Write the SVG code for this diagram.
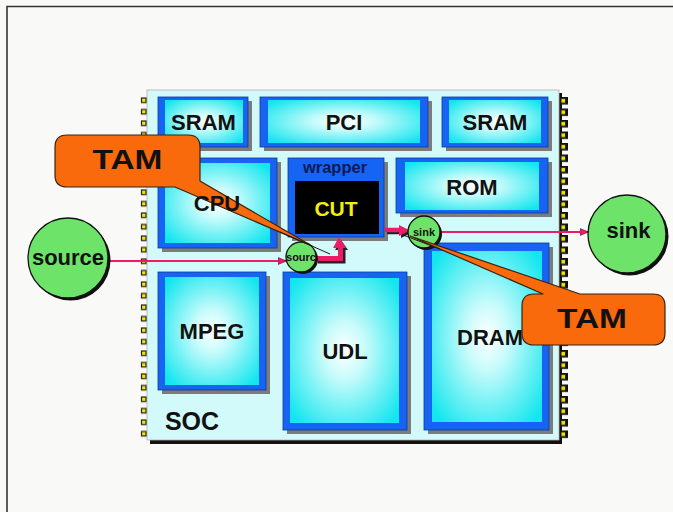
<svg xmlns="http://www.w3.org/2000/svg" width="673" height="512" viewBox="0 0 673 512">
<defs>
<radialGradient id="cy" cx="50%" cy="50%" r="65%">
<stop offset="0" stop-color="#ffffff"/>
<stop offset="0.3" stop-color="#c8fbfb"/>
<stop offset="1" stop-color="#12e6ee"/>
</radialGradient>
<marker id="thin" markerWidth="9" markerHeight="8" refX="8" refY="4" orient="auto" markerUnits="userSpaceOnUse">
<path d="M0,0.5 L8.5,4 L0,7.5 z" fill="#ee1c68" stroke="#5a1030" stroke-width="0.6"/>
</marker>
<pattern id="padsL" x="140" y="97" width="12" height="11.5" patternUnits="userSpaceOnUse">
<rect x="1.5" y="1" width="4.5" height="4.5" fill="#f4e600" stroke="#222" stroke-width="1.2"/>
</pattern>
<pattern id="padsR" x="559" y="97" width="12" height="11.5" patternUnits="userSpaceOnUse">
<rect x="2" y="0" width="7" height="7.5" fill="#111"/>
<rect x="2" y="1.5" width="4.5" height="4.5" fill="#f4e600" stroke="#222" stroke-width="1"/>
</pattern>
</defs>
<style>
.blue{fill:#1763f2;stroke:#0a3a9a;stroke-width:0.8}
.sh{fill:#7c7c7c}
.in{fill:url(#cy)}
.lab{font-family:"Liberation Sans",Arial,sans-serif;font-weight:bold;font-size:22px;fill:#111;text-anchor:middle}
.circ{fill:#6ee36a;stroke:#111;stroke-width:1.3}
.csh{fill:#111}
.pk{stroke:#ee1c68;fill:none}
.tam{fill:#f86a0c;stroke:#3a2410;stroke-width:1.2;stroke-linejoin:round}
</style>
<rect x="0" y="0" width="673" height="512" fill="#f9faf8"/>
<path d="M7,512 V6.5 H673" fill="none" stroke="#333" stroke-width="1.6"/>

<g id="soc">
<rect x="150" y="93" width="412" height="351" fill="#111"/>
<rect x="147" y="90" width="412" height="350" fill="#d2fafa" stroke="#c0a8a8" stroke-width="0.8"/>
<rect x="140" y="95" width="8" height="345" fill="url(#padsL)"/>
<rect x="559" y="95" width="12" height="345" fill="url(#padsR)"/>
<text class="lab" x="192" y="430" style="font-size:25px">SOC</text>
</g>

<g id="sram1">
<rect class="sh" x="162" y="101" width="90" height="50"/>
<rect class="blue" x="158" y="97" width="90" height="50"/>
<rect class="in" x="165" y="100" width="78" height="43"/>
<text class="lab" x="203.5" y="130">SRAM</text>
</g>
<g id="pci">
<rect class="sh" x="264" y="101" width="168" height="50"/>
<rect class="blue" x="260" y="97" width="168" height="50"/>
<rect class="in" x="268" y="100" width="152" height="43"/>
<text class="lab" x="344" y="130">PCI</text>
</g>
<g id="sram2">
<rect class="sh" x="446" y="101" width="106" height="50"/>
<rect class="blue" x="442" y="97" width="106" height="50"/>
<rect class="in" x="449" y="100" width="92" height="43"/>
<text class="lab" x="495" y="130">SRAM</text>
</g>
<g id="cpu">
<rect class="sh" x="162" y="162" width="119" height="90"/>
<rect class="blue" x="158" y="158" width="119" height="90"/>
<rect class="in" x="165" y="163" width="105" height="80"/>
</g>
<g id="wrapper">
<rect class="sh" x="292" y="162" width="96" height="79"/>
<rect class="blue" x="288" y="158" width="96" height="79"/>
<rect x="295" y="181" width="84" height="53" fill="#000"/>
<text x="335" y="173" text-anchor="middle" font-family="Liberation Sans,Arial,sans-serif" font-weight="bold" font-size="16.5" fill="#0d1a5a">wrapper</text>
<text x="336" y="216" text-anchor="middle" font-family="Liberation Sans,Arial,sans-serif" font-weight="bold" font-size="21" fill="#f2ee10">CUT</text>
</g>
<g id="rom">
<rect class="sh" x="400" y="162" width="152" height="55"/>
<rect class="blue" x="396" y="158" width="152" height="55"/>
<rect class="in" x="405" y="162" width="134" height="48"/>
<text class="lab" x="472" y="195">ROM</text>
</g>
<g id="mpeg">
<rect class="sh" x="162" y="276" width="108" height="118"/>
<rect class="blue" x="158" y="272" width="108" height="118"/>
<rect class="in" x="165" y="277" width="94" height="108"/>
<text class="lab" x="212" y="339">MPEG</text>
</g>
<g id="udl">
<rect class="sh" x="287" y="276" width="124" height="158"/>
<rect class="blue" x="283" y="272" width="124" height="158"/>
<rect class="in" x="290" y="278" width="109" height="145"/>
<text class="lab" x="345" y="359">UDL</text>
</g>
<g id="dram">
<rect class="sh" x="428" y="247" width="125" height="187"/>
<rect class="blue" x="424" y="243" width="125" height="187"/>
<rect class="in" x="432" y="251" width="110" height="171"/>
<text class="lab" x="490" y="345">DRAM</text>
</g>

<g id="connectors">
<line class="pk" x1="108" y1="261" x2="286" y2="261" stroke-width="2" marker-end="url(#thin)"/>
<line class="pk" x1="440" y1="232" x2="588" y2="232" stroke-width="2" marker-end="url(#thin)"/>
<path d="M318,261 H343 V249" fill="none" stroke="#222" stroke-width="5"/>
<polygon points="335,250 348,250 341,240" fill="#222"/>
<path d="M316,258.5 H340.5 V247" class="pk" stroke-width="5"/>
<polygon points="333,248 346,248 339,237" fill="#ee1c68"/>
<line x1="387" y1="232" x2="402" y2="232" stroke="#222" stroke-width="4.5"/>
<polygon points="401,227 412,232.5 401,238" fill="#222"/>
<line x1="385" y1="230" x2="401" y2="230" class="pk" stroke-width="4.5"/>
<polygon points="399,225 410,230.5 399,236" fill="#ee1c68"/>
</g>

<g id="source">
<circle class="csh" cx="70.5" cy="260.5" r="40"/>
<circle class="circ" cx="68" cy="258" r="40"/>
<text class="lab" x="68" y="265">source</text>
</g>
<g id="source-port">
<circle class="csh" cx="303" cy="259" r="15"/>
<circle class="circ" cx="301" cy="257" r="15"/>
<text x="301" y="261" text-anchor="middle" font-family="Liberation Sans,Arial,sans-serif" font-weight="bold" font-size="11" fill="#111">sourc</text>
</g>
<g id="sink-port">
<circle class="csh" cx="426" cy="234" r="16"/>
<circle class="circ" cx="424" cy="232" r="16"/>
<text x="424" y="235.5" text-anchor="middle" font-family="Liberation Sans,Arial,sans-serif" font-weight="bold" font-size="11" fill="#111">sink</text>
</g>
<g id="sink">
<circle class="csh" cx="629.5" cy="236.5" r="39"/>
<circle class="circ" cx="627" cy="234" r="39"/>
<text class="lab" x="628.5" y="238">sink</text>
</g>

<g id="tam1">
<path class="tam" d="M67,135 H188 Q200,135 200,147 V181 L312,246 L175,187 H67 Q55,187 55,175 V147 Q55,135 67,135 Z"/>
<line x1="280" y1="232" x2="330" y2="254" stroke="#1a1a1a" stroke-width="1"/>
<text x="127.5" y="169" text-anchor="middle" font-family="Liberation Sans,Arial,sans-serif" font-weight="bold" font-size="27" textLength="70" lengthAdjust="spacingAndGlyphs" fill="#111">TAM</text>
</g>
<g id="cpu-label">
<text class="lab" x="217" y="211">CPU</text>
</g>
<g id="tam2">
<path class="tam" d="M534,294 H543 L410,236 L580,294 H653 Q665,294 665,306 V333 Q665,345 653,345 H534 Q522,345 522,333 V306 Q522,294 534,294 Z"/>
<line x1="403" y1="235" x2="440" y2="249" stroke="#1a1a1a" stroke-width="1"/>
<text x="592" y="328" text-anchor="middle" font-family="Liberation Sans,Arial,sans-serif" font-weight="bold" font-size="28" textLength="70" lengthAdjust="spacingAndGlyphs" fill="#111">TAM</text>
</g>
</svg>
